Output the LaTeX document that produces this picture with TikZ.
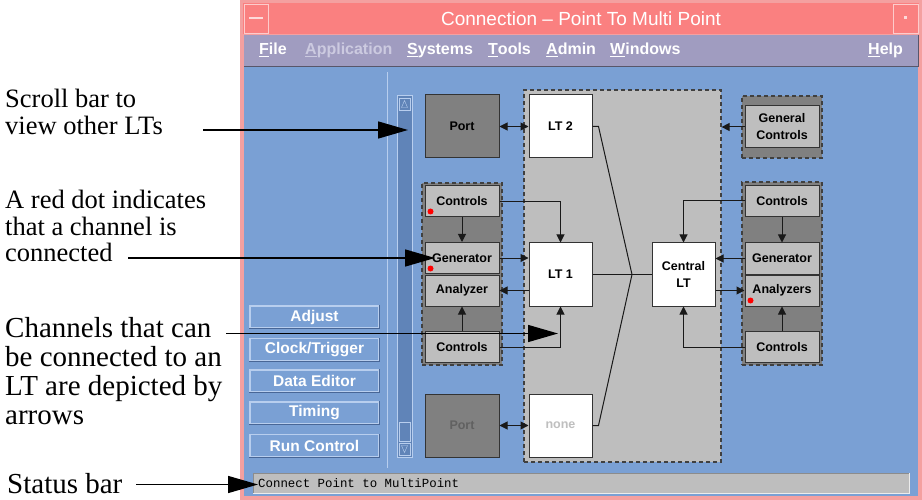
\documentclass[tikz,border=0pt]{standalone}
\usepackage{fontspec}
\setmainfont{Liberation Serif}
\newfontfamily\uifont{Liberation Sans}
\newfontfamily\statusfont{Liberation Mono}
\usetikzlibrary{arrows.meta}

\definecolor{framepink}{RGB}{244,160,160}
\definecolor{titlepink}{RGB}{250,128,128}
\definecolor{menugray}{RGB}{160,156,192}
\definecolor{appgray}{RGB}{204,202,224}
\definecolor{bgblue}{RGB}{122,160,212}
\definecolor{troughblue}{RGB}{96,132,184}
\definecolor{btnlight}{RGB}{184,206,238}
\definecolor{btndark}{RGB}{72,102,150}
\definecolor{panelgray}{RGB}{128,128,128}
\definecolor{boxgray}{RGB}{190,190,190}

\tikzset{
  titletext/.style={text=white, inner sep=0pt, font=\uifont\fontsize{19}{22}\selectfont},
  menuitem/.style={anchor=base west, inner sep=0pt, text=white, font=\uifont\bfseries\fontsize{16}{18}\selectfont},
  button/.style={draw=btnlight, line width=1.2pt, fill=bgblue, minimum width=129pt, minimum height=22pt,
    inner sep=0pt, text=white, font=\uifont\bfseries\fontsize{15.5}{17}\selectfont},
  groupbox/.style={draw=black!75, dash pattern=on 4pt off 3pt, line width=1.2pt, fill=panelgray, inner sep=0pt},
  areabox/.style={groupbox, fill=boxgray},
  chanbox/.style={draw=black!80, line width=1pt, fill=boxgray, minimum width=74pt, minimum height=31pt,
    inner sep=0pt, align=center, font=\uifont\bfseries\fontsize{12.5}{17}\selectfont},
  ltbox/.style={chanbox, fill=white, minimum width=63pt, minimum height=63pt},
  portbox/.style={chanbox, fill=panelgray, minimum height=63pt},
  link/.style={draw=black!90, line width=1pt, -{Triangle[length=8pt,width=8pt]}},
  twoway/.style={link, {Triangle[length=8pt,width=8pt]}-{Triangle[length=8pt,width=8pt]}},
  wire/.style={draw=black!90, line width=1pt},
  reddot/.style={fill=red},
  note/.style={anchor=north west, inner sep=0pt, align=left},
  callout/.style={line width=1.5pt, -{Triangle[length=30pt,width=17pt]}}
}

\begin{document}
\begin{tikzpicture}[x=1pt,y=-1pt]
\useasboundingbox (0,0) rectangle (922,500);

% window frame and title bar
\fill[framepink] (240,0) rectangle (922,500);
\fill[titlepink] (243,3) rectangle (919,34);
\draw[white!60!titlepink] (244,4) rectangle (268,33);
\fill[white!70!titlepink] (249,17) rectangle (263,19);
\draw[white!60!titlepink] (893,4) rectangle (918,33);
\fill[white!70!titlepink] (904,16) rectangle (907,19);
\node[titletext] (title) at (581,18.5) {Connection \textendash{} Point To Multi Point};

% menu bar
\fill[menugray] (244,35) rectangle (918,67);
\draw[menugray!55!black, line width=1pt] (244,66.5) -- (918,66.5) -- (918,35);
\node[menuitem] (mfile) at (259,55) {\underline{F}ile};
\node[menuitem, text=appgray] (mapp) at (305,55) {\underline{A}pplication};
\node[menuitem] (msys) at (407,55) {\underline{S}ystems};
\node[menuitem] (mtools) at (488,55) {\underline{T}ools};
\node[menuitem] (madmin) at (546,55) {\underline{A}dmin};
\node[menuitem] (mwin) at (610,55) {\underline{W}indows};
\node[menuitem] (mhelp) at (868,55) {\underline{H}elp};

% work area
\fill[bgblue] (244,67) rectangle (918,496);
\draw[btnlight, line width=1pt] (387,72) -- (387,468);

% buttons on the left
\node[button] (badjust) at (314.5,317) {Adjust};
\node[button] (bclock) at (314.5,349.5) {Clock/Trigger};
\node[button] (bdata) at (314.5,381) {Data Editor};
\node[button] (btiming) at (314.5,413) {Timing};
\node[button] (brun) at (314.5,445.5) {Run Control};
\foreach \b in {badjust,bclock,bdata,btiming,brun}
  \draw[btndark, line width=1.2pt] (\b.south west) -- (\b.south east) -- (\b.north east);

% scroll bar
\fill[troughblue] (397,96) rectangle (412,457);
\draw[btnlight, line width=1pt] (397,96) rectangle (412,457);
\draw[btnlight] (399,98) rectangle (410,110);
\draw[btnlight] (401.5,107.5) -- (404.5,100.5) -- (407.5,107.5) -- cycle;
\draw[btnlight, line width=1pt] (399,422) rectangle (410,441);
\draw[btnlight] (399,443) rectangle (410,455);
\draw[btnlight] (401.5,445.5) -- (404.5,452.5) -- (407.5,445.5) -- cycle;

% status bar
\fill[boxgray] (253,473) rectangle (909,493);
\draw[white!70!boxgray, line width=1pt] (253,493) -- (909,493) -- (909,473);
\draw[black!45, line width=1pt] (253,493) -- (253,473) -- (909,473);
\node[anchor=west, inner sep=0pt, font=\statusfont\fontsize{12.4}{14}\selectfont] (statusmsg) at (258,483.5) {Connect Point to MultiPoint};

% groups
\node[areabox, minimum width=197pt, minimum height=372pt] (ltarea) at (622.5,276) {};
\node[groupbox, minimum width=80pt, minimum height=182pt] (leftgrp) at (462,274) {};
\node[groupbox, minimum width=80pt, minimum height=62pt] (gengrp) at (782,127) {};
\node[groupbox, minimum width=80pt, minimum height=183pt] (rightgrp) at (782,273.5) {};

% boxes
\node[portbox] (porttop) at (462,126.5) {Port};
\node[portbox, text=black!62] (portbot) at (462,425.5) {Port};
\node[ltbox] (lt2) at (560.5,126.5) {LT 2};
\node[ltbox] (lt1) at (560.5,274.5) {LT 1};
\node[ltbox, text=black!25] (ltnone) at (560.5,425.5) {none};
\node[ltbox] (centrallt) at (683.5,274.5) {Central\\LT};
\node[chanbox] (lctrl) at (462,201.5) {Controls};
\node[chanbox] (lgen) at (462,258) {Generator};
\node[chanbox] (lana) at (462,290.5) {Analyzer};
\node[chanbox] (lctrlb) at (462,347) {Controls};
\node[chanbox, minimum height=42pt] (gencon) at (782,127) {General\\Controls};
\node[chanbox] (rctrl) at (782,201) {Controls};
\node[chanbox] (rgen) at (782,258.5) {Generator};
\node[chanbox] (rana) at (782,290.5) {Analyzers};
\node[chanbox] (rctrlb) at (782,347) {Controls};

% red dots = connected channels
\fill[reddot] ([shift={(6,-6)}]lctrl.south west) circle (3pt);
\fill[reddot] ([shift={(6,-5.5)}]lgen.south west) circle (3pt);
\fill[reddot] ([shift={(6,-6)}]rana.south west) circle (3pt);

% links
\draw[twoway] (porttop) -- (lt2);
\draw[twoway] (portbot) -- (ltnone);
\draw[link] (lctrl.east) -| (lt1.north);
\draw[link] (lctrl) -- (lgen);
\draw[link] (lgen.east) -- (lgen.east -| lt1.west);
\draw[link] (lt1.west |- lana) -- (lana.east);
\draw[link] (lctrlb) -- (lana);
\draw[link] (lctrlb.east) -| (lt1.south);
\coordinate (merge) at (632,274.5);
\draw[wire] (lt2.east) -- ++(6,0) -- (merge);
\draw[wire] (ltnone.east) -- ++(6,0) -- (merge);
\draw[wire] (lt1.east) -- (centrallt.west);
\draw[link] (gencon.west) -- (gencon.west -| ltarea.east);
\draw[link] (rctrl.west) -| (centrallt.north);
\draw[link] (rctrl) -- (rgen);
\draw[link] (rgen.west) -- (rgen.west -| centrallt.east);
\draw[link] (centrallt.east |- rana) -- (rana.west);
\draw[link] (rctrlb) -- (rana);
\draw[link] (rctrlb.west) -| (centrallt.south);

% callouts
\node[note, font=\fontsize{26.5}{26.5}\selectfont] (scrollnote) at (5,89) {Scroll bar to\\view other LTs};
\node[note, font=\fontsize{26.5}{26.5}\selectfont] (dotnote) at (5,190) {A red dot indicates\\that a channel is\\connected};
\node[note, font=\fontsize{29}{29}\selectfont] (channote) at (5,317) {Channels that can\\be connected to an\\LT are depicted by\\arrows};
\node[anchor=base west, inner sep=0pt, font=\fontsize{29}{29}\selectfont] (statusnote) at (7,493) {Status bar};
\coordinate (scrolltail) at (203,130);
\coordinate (scrolltip) at (408,130);
\coordinate (dottail) at (128,258);
\coordinate (dottip) at (435,258);
\coordinate (chantail) at (226,333.5);
\coordinate (chantip) at (558,333.5);
\coordinate (statustail) at (136,484.5);
\coordinate (statustip) at (258,484.5);
\draw[callout] (scrolltail) -- (scrolltip);
\draw[callout] (dottail) -- (dottip);
\draw[callout] (chantail) -- (chantip);
\draw[callout] (statustail) -- (statustip);
\end{tikzpicture}
\end{document}
